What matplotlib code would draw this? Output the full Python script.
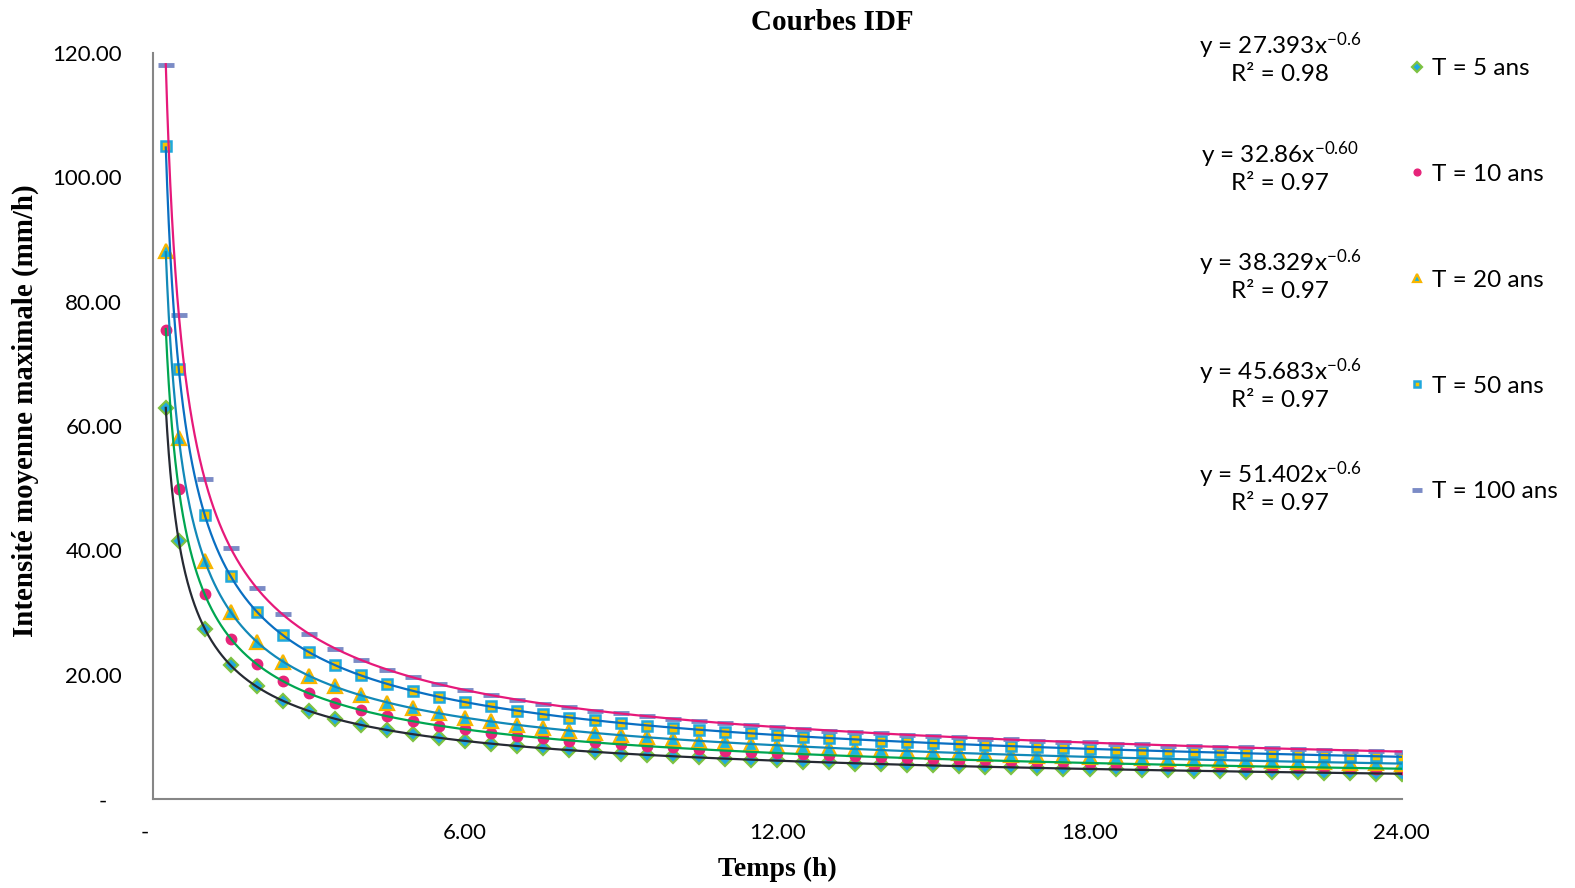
import numpy as np
import matplotlib.pyplot as plt

plt.rcParams['font.family'] = ['Lato', 'DejaVu Sans']
plt.rcParams['mathtext.default'] = 'regular'

# durees (h)
temps = [0.25, 0.5, 1, 1.5, 2, 2.5, 3, 3.5, 4, 4.5, 5, 5.5, 6, 6.5, 7, 7.5, 8,
         8.5, 9, 9.5, 10, 10.5, 11, 11.5, 12, 12.5, 13, 13.5, 14, 14.5, 15,
         15.5, 16, 16.5, 17, 17.5, 18, 18.5, 19, 19.5, 20, 20.5, 21, 21.5, 22,
         22.5, 23, 23.5, 24]

# intensites (mm/h)
i_t5 = [62.9, 41.5, 27.4, 21.5, 18.1, 15.8, 14.2, 12.9, 11.9, 11.1, 10.4, 9.8,
        9.3, 8.9, 8.5, 8.2, 7.9, 7.6, 7.3, 7.1, 6.9, 6.7, 6.5, 6.3, 6.2, 6.0,
        5.9, 5.7, 5.6, 5.5, 5.4, 5.3, 5.2, 5.1, 5.0, 4.9, 4.8, 4.8, 4.7, 4.6,
        4.5, 4.5, 4.4, 4.3, 4.3, 4.2, 4.2, 4.1, 4.1]
i_t10 = [75.5, 49.8, 32.9, 25.8, 21.7, 19.0, 17.0, 15.5, 14.3, 13.3, 12.5,
         11.8, 11.2, 10.7, 10.2, 9.8, 9.4, 9.1, 8.8, 8.5, 8.3, 8.0, 7.8, 7.6,
         7.4, 7.2, 7.1, 6.9, 6.7, 6.6, 6.5, 6.3, 6.2, 6.1, 6.0, 5.9, 5.8, 5.7,
         5.6, 5.5, 5.4, 5.4, 5.3, 5.2, 5.1, 5.1, 5.0, 4.9, 4.9]
i_t20 = [88.1, 58.1, 38.3, 30.1, 25.3, 22.1, 19.8, 18.1, 16.7, 15.5, 14.6,
         13.8, 13.1, 12.5, 11.9, 11.4, 11.0, 10.6, 10.3, 9.9, 9.6, 9.4, 9.1,
         8.9, 8.6, 8.4, 8.2, 8.0, 7.9, 7.7, 7.5, 7.4, 7.3, 7.1, 7.0, 6.9, 6.8,
         6.7, 6.6, 6.4, 6.4, 6.3, 6.2, 6.1, 6.0, 5.9, 5.8, 5.8, 5.7]
i_t50 = [105.0, 69.2, 45.7, 35.8, 30.1, 26.4, 23.6, 21.5, 19.9, 18.5, 17.4,
         16.4, 15.6, 14.9, 14.2, 13.6, 13.1, 12.7, 12.2, 11.8, 11.5, 11.1,
         10.8, 10.6, 10.3, 10.0, 9.8, 9.6, 9.4, 9.2, 9.0, 8.8, 8.7, 8.5, 8.3,
         8.2, 8.1, 7.9, 7.8, 7.7, 7.6, 7.5, 7.4, 7.2, 7.1, 7.1, 7.0, 6.9, 6.8]
i_t100 = [118.1, 77.9, 51.4, 40.3, 33.9, 29.7, 26.6, 24.2, 22.4, 20.8, 19.6,
          18.5, 17.5, 16.7, 16.0, 15.3, 14.8, 14.2, 13.8, 13.3, 12.9, 12.5,
          12.2, 11.9, 11.6, 11.3, 11.0, 10.8, 10.6, 10.3, 10.1, 9.9, 9.7, 9.6,
          9.4, 9.2, 9.1, 8.9, 8.8, 8.6, 8.5, 8.4, 8.3, 8.2, 8.0, 7.9, 7.8, 7.7,
          7.6]

series_labels = ["T = 5 ans", "T = 10 ans", "T = 20 ans", "T = 50 ans", "T = 100 ans"]
equations = ["y = 27.393x$^{-0.6}$\nR² = 0.98",
             "y = 32.86x$^{-0.60}$\nR² = 0.97",
             "y = 38.329x$^{-0.6}$\nR² = 0.97",
             "y = 45.683x$^{-0.6}$\nR² = 0.97",
             "y = 51.402x$^{-0.6}$\nR² = 0.97"]
y_ticks = [0, 20, 40, 60, 80, 100, 120]
x_ticks = [0, 6, 12, 18, 24]

series = [i_t5, i_t10, i_t20, i_t50, i_t100]
# marker, size, face, edge, edge width, trend line colour
styles = [
    ('D', 7.5, '#1fa8e0', '#7dc242', 1.6, '#262a33'),
    ('o', 7.5, '#e6247a', '#e6247a', 1.0, '#00a651'),
    ('^', 9.5, '#1cb5e0', '#f7b500', 1.6, '#1289b8'),
    ('s', 7.0, '#f5c400', '#20a8dc', 1.8, '#0a6fc2'),
    ('_', 11, '#7b8bc6', '#7b8bc6', 3.5, '#e6197a'),
]

fig = plt.figure(figsize=(15.75, 8.88), dpi=100)
ax = fig.add_axes([0.097, 0.1002, 0.793, 0.8401])

x = np.array(temps)
xs = np.geomspace(x.min(), x.max(), 400)
handles = []
for vals, lab, (mk, ms, fc, ec, mew, lc) in zip(series, series_labels, styles):
    y = np.array(vals)
    h, = ax.plot(x, y, linestyle='none', marker=mk, markersize=ms,
                 markerfacecolor=fc, markeredgecolor=ec, markeredgewidth=mew,
                 label=lab, zorder=3)
    handles.append(h)
    # courbe de tendance puissance (ajustement log-log)
    b, a = np.polyfit(np.log(x), np.log(y), 1)
    ax.plot(xs, np.exp(a) * xs ** b, color=lc, lw=1.6, zorder=4)

ax.set_xlim(0, 24)
ax.set_ylim(0, 120)
ax.set_xticks(x_ticks)
ax.set_yticks(y_ticks)
ax.set_xticklabels(['' if v == 0 else f"{v:.2f}" for v in x_ticks])
ax.set_yticklabels(['' if v == 0 else f"{v:.2f}" for v in y_ticks])
ax.tick_params(axis='both', length=0, labelsize=16)
ax.tick_params(axis='y', pad=22)
ax.tick_params(axis='x', pad=17)
ax.annotate('-', xy=(0, 0), xycoords='axes fraction', xytext=(-36, -2),
            textcoords='offset points', ha='center', va='center', fontsize=16)
ax.annotate('-', xy=(0, 0), xycoords='axes fraction', xytext=(-5.5, -24.5),
            textcoords='offset points', ha='center', va='center', fontsize=16)

for side in ['top', 'right']:
    ax.spines[side].set_visible(False)
for side in ['left', 'bottom']:
    ax.spines[side].set_color('#868686')
    ax.spines[side].set_linewidth(1.5)

ax.set_xlabel('Temps (h)', family='Liberation Serif', fontweight='bold',
              fontsize=20, va='center')
ax.xaxis.set_label_coords(0.5, -0.095)
ax.set_ylabel('Intensité moyenne maximale (mm/h)', family='Liberation Serif',
              fontweight='bold', fontsize=20.8, va='center', ha='center')
ax.yaxis.set_label_coords(-0.102, 0.52)

fig.text(832 / 1575, 1 - 22 / 888, 'Courbes IDF', family='Liberation Serif',
         fontweight='bold', fontsize=21, ha='center', va='center')

eq_y = [58, 167, 275, 384, 487]
for eq, yy in zip(equations, eq_y):
    fig.text(1280 / 1575, 1 - yy / 888, eq, fontsize=17.5, ha='center',
             va='center', linespacing=1.2)

fig.legend(handles=handles, loc='upper left',
           bbox_to_anchor=(1410 / 1575, 1 - 58 / 888), frameon=False,
           fontsize=17.5, markerscale=0.65, handlelength=0.55, handletextpad=0.35,
           labelspacing=3.49, borderaxespad=0, borderpad=0)

fig.savefig('out.png', dpi=100)
